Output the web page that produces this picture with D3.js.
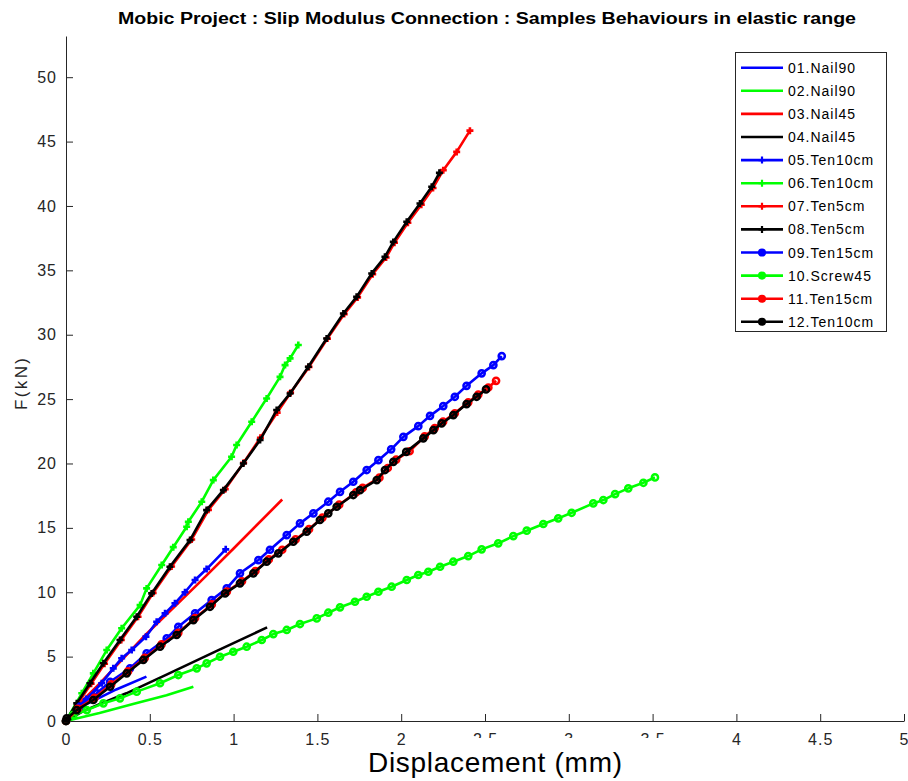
<!DOCTYPE html>
<html>
<head>
<meta charset="utf-8">
<script src="https://cdn.jsdelivr.net/npm/d3@7"></script>
<style>
  body { margin: 0; background: #fff; }
  text { font-family: "Liberation Sans", Arial, sans-serif; }
</style>
</head>
<body>
<svg id="chart" width="908" height="781"></svg>
<script>
// ---- data (x: mm, y: kN) ----
var nail90_01 = [[0,0],[0.04,0.6],[0.1,1.2],[0.16,1.55],[0.3,2.45],[0.48,3.45]];
var nail90_02 = [[0,0],[0.2,0.62],[0.4,1.32],[0.6,2.0],[0.76,2.66]];
var nail45_03 = [[0,0],[0.05,0.8],[0.1,1.6],[0.2,2.9],[0.46,6.5],[0.8,10.8],[1.0,13.4],[1.29,17.2]];
var nail45_04 = [[0,0],[0.1,0.75],[0.2,1.3],[0.36,2.15],[0.6,3.6],[0.9,5.45],[1.2,7.27]];
var ten10_05 = [[0,0],[0.06,0.9],[0.12,1.7],[0.213,2.93],[0.282,4.09],[0.332,4.87],[0.392,5.51],[0.477,6.55],
  [0.541,7.71],[0.591,8.36],[0.65,9.14],[0.71,10.0],[0.77,10.95],[0.839,11.8],[0.953,13.33]];
var ten10_06 = [[0,0],[0.094,2.15],[0.163,3.7],[0.243,5.51],[0.332,7.2],[0.442,9.0],[0.481,10.3],[0.571,12.11],
  [0.64,13.5],[0.72,15.09],[0.73,15.47],[0.81,17.03],[0.879,18.71],[0.988,20.52],[1.018,21.43],[1.108,23.24],
  [1.197,25.05],[1.277,26.73],[1.307,27.64],[1.337,28.16],[1.386,29.2]];
var ten5_07 = [[0,0],[0.07,1.35],[0.15,2.9],[0.23,4.45],[0.33,6.3],[0.43,8.1],[0.52,9.95],[0.63,12.0],[0.75,14.1],
  [0.85,16.4],[0.95,18.0],[1.06,20.05],[1.16,22.0],[1.26,23.95],[1.34,25.5],[1.45,27.5],[1.56,29.7],[1.66,31.6],
  [1.74,32.9],[1.83,34.7],[1.91,36.0],[1.96,37.15],[2.04,38.7],[2.12,40.1],[2.19,41.4],[2.251,42.78],[2.331,44.2],[2.41,45.85]];
var ten5_08 = [[0,0],[0.064,1.37],[0.143,2.93],[0.223,4.48],[0.322,6.29],[0.422,8.1],[0.511,9.91],[0.62,11.98],
  [0.74,14.05],[0.839,16.38],[0.939,17.93],[1.058,20.0],[1.158,21.82],[1.257,24.15],[1.337,25.44],[1.446,27.51],
  [1.555,29.71],[1.655,31.65],[1.734,32.94],[1.824,34.76],[1.903,36.05],[1.953,37.21],[2.033,38.77],[2.112,40.19],
  [2.182,41.49],[2.228,42.57]];
var ten15_09 = [[0,0],[0.084,1.11],[0.183,2.15],[0.263,3.05],[0.382,4.09],[0.481,5.26],[0.601,6.42],[0.67,7.32],
  [0.77,8.36],[0.869,9.39],[0.959,10.3],[1.038,11.47],[1.148,12.5],[1.217,13.3],[1.317,14.44],[1.396,15.35],
  [1.476,16.13],[1.565,17.03],[1.635,17.8],[1.714,18.58],[1.794,19.49],[1.864,20.26],[1.94,21.1],[2.013,22.07],
  [2.102,22.9],[2.172,23.7],[2.251,24.46],[2.32,25.18],[2.39,26.03],[2.48,27.0],[2.55,27.64],[2.6,28.34]];
var screw45_10 = [[0,0],[0.044,0.47],[0.124,0.85],[0.223,1.37],[0.322,1.76],[0.422,2.28],[0.561,2.93],[0.67,3.57],
  [0.78,4.09],[0.839,4.48],[0.919,4.99],[0.998,5.38],[1.078,5.77],[1.168,6.29],[1.237,6.75],[1.317,7.07],
  [1.396,7.53],[1.496,7.97],[1.565,8.41],[1.635,8.83],[1.724,9.26],[1.794,9.65],[1.864,10.04],[1.943,10.43],
  [2.033,10.95],[2.102,11.34],[2.162,11.59],[2.232,11.98],[2.311,12.37],[2.4,12.81],[2.48,13.33],[2.579,13.8],
  [2.669,14.36],[2.749,14.78],[2.848,15.3],[2.937,15.74],[3.017,16.17],[3.146,16.9],[3.206,17.16],[3.276,17.62],
  [3.355,18.07],[3.445,18.5],[3.514,18.92]];
var ten15_11 = [[0,0],[0.07,0.95],[0.17,1.8],[0.27,2.85],[0.37,3.85],[0.47,4.9],[0.57,5.95],[0.67,6.85],[0.77,8.0],
  [0.87,9.05],[0.96,10.05],[1.05,10.85],[1.13,11.65],[1.21,12.55],[1.29,13.3],[1.37,14.1],[1.45,14.9],[1.53,15.8],
  [1.63,16.8],[1.73,17.75],[1.77,18.1],[1.87,18.9],[1.92,19.65],[1.97,20.3],[2.05,20.95],[2.14,22.1],[2.2,22.75],
  [2.25,23.25],[2.32,23.9],[2.4,24.75],[2.46,25.35],[2.52,25.9],[2.566,26.42]];
var ten10_12 = [[0,0],[0.004,0.2],[0.064,0.85],[0.163,1.63],[0.263,2.66],[0.362,3.7],[0.461,4.74],[0.561,5.77],
  [0.66,6.68],[0.76,7.84],[0.859,8.87],[0.949,9.91],[1.038,10.69],[1.118,11.47],[1.197,12.37],[1.267,13.02],
  [1.356,13.92],[1.436,14.7],[1.515,15.61],[1.565,16.13],[1.615,16.64],[1.714,17.55],[1.754,17.93],[1.854,18.71],
  [1.903,19.49],[1.953,20.13],[2.03,20.9],[2.132,21.95],[2.192,22.59],[2.241,23.11],[2.311,23.76],[2.39,24.61],
  [2.45,25.18],[2.506,25.75]];

var seriesNames = ["01.Nail90","02.Nail90","03.Nail45","04.Nail45","05.Ten10cm","06.Ten10cm",
                   "07.Ten5cm","08.Ten5cm","09.Ten15cm","10.Screw45","11.Ten15cm","12.Ten10cm"];
var seriesData = [nail90_01, nail90_02, nail45_03, nail45_04, ten10_05, ten10_06,
                  ten5_07, ten5_08, ten15_09, screw45_10, ten15_11, ten10_12];
var xTicks = [0,0.5,1,1.5,2,2.5,3,3.5,4,4.5,5];
var yTicks = [0,5,10,15,20,25,30,35,40,45,50];

// styles
var colors = ["#0000ff","#00ff00","#ff0000","#000000"];
var markerOf = function(i){ return i < 4 ? "none" : (i < 8 ? "plus" : "circle"); };

var svg = d3.select("#chart");
var x = d3.scaleLinear().domain([0, 5]).range([66, 904]);
var y = d3.scaleLinear().domain([0, 53.2]).range([721, 36]);

// title
svg.append("text")
  .attr("x", 487).attr("y", 24)
  .attr("text-anchor", "middle")
  .style("font-weight", "bold").style("font-size", "16px").style("fill", "#000")
  .attr("textLength", 738).attr("lengthAdjust", "spacingAndGlyphs")
  .text("Mobic Project : Slip Modulus Connection : Samples Behaviours in elastic range");

// axes
var xAxis = svg.append("g").attr("transform", "translate(0,721)")
  .call(d3.axisBottom(x).tickValues(xTicks).tickSize(-7).tickSizeOuter(0).tickPadding(13)
        .tickFormat(function(d){ return String(d); }));
var yAxis = svg.append("g").attr("transform", "translate(66,0)")
  .call(d3.axisLeft(y).tickValues(yTicks).tickSize(-7).tickSizeOuter(0).tickPadding(9)
        .tickFormat(function(d){ return String(d); }));
[xAxis, yAxis].forEach(function(a){
  a.select(".domain").attr("stroke", "#262626");
  a.selectAll(".tick line").attr("stroke", "#262626");
  a.selectAll(".tick text").style("font-size", "16px").style("fill", "#262626")
    .style("font-family", "'Liberation Sans', Arial, sans-serif").style("letter-spacing", "1px");
});

// series
var line = d3.line().x(function(d){ return x(d[0]); }).y(function(d){ return y(d[1]); });
var plusPath = "M-3.5,0H3.5M0,-3.5V3.5";

function drawMarkers(g, pts, kind, col){
  if (kind === "plus") {
    g.selectAll("path.m").data(pts).enter().append("path").attr("class", "m")
      .attr("d", plusPath)
      .attr("transform", function(d){ return "translate(" + x(d[0]) + "," + y(d[1]) + ")"; })
      .attr("stroke", col).attr("stroke-width", 2.6).attr("fill", "none");
  } else if (kind === "circle") {
    g.selectAll("circle.m").data(pts).enter().append("circle").attr("class", "m")
      .attr("cx", function(d){ return x(d[0]); }).attr("cy", function(d){ return y(d[1]); })
      .attr("r", 3.1).attr("stroke", col).attr("stroke-width", 2.5).attr("fill", "none");
  }
}

seriesData.forEach(function(pts, i){
  var col = colors[i % 4];
  var g = svg.append("g");
  g.append("path").datum(pts).attr("d", line)
    .attr("fill", "none").attr("stroke", col).attr("stroke-width", 2.6)
    .attr("stroke-linejoin", "round");
  drawMarkers(g, pts, markerOf(i), col);
});

// white box behind the x label (hides part of the tick labels as in the original)
svg.append("rect").attr("x", 455).attr("y", 738).attr("width", 220).attr("height", 43).attr("fill", "#fff");

svg.append("text")
  .attr("x", 495).attr("y", 772).attr("text-anchor", "middle")
  .style("font-size", "28px").style("fill", "#000")
  .attr("textLength", 254).attr("lengthAdjust", "spacing")
  .text("Displacement (mm)");

svg.append("text")
  .attr("transform", "translate(27,384) rotate(-90)")
  .attr("text-anchor", "middle")
  .style("font-size", "17px").style("fill", "#262626")
  .attr("textLength", 52).attr("lengthAdjust", "spacing")
  .text("F(kN)");

// legend
var leg = svg.append("g");
leg.append("rect").attr("x", 735.5).attr("y", 52.5).attr("width", 151).attr("height", 279)
  .attr("fill", "#fff").attr("stroke", "#262626").attr("stroke-width", 1);
seriesNames.forEach(function(name, i){
  var cy = 67.7 + i * 23.1;
  var col = colors[i % 4];
  var row = leg.append("g");
  row.append("line").attr("x1", 741).attr("x2", 783).attr("y1", cy).attr("y2", cy)
    .attr("stroke", col).attr("stroke-width", 2.6);
  var kind = markerOf(i);
  if (kind === "plus") {
    row.append("path").attr("d", plusPath).attr("transform", "translate(762," + cy + ")")
      .attr("stroke", col).attr("stroke-width", 2.2).attr("fill", "none");
  } else if (kind === "circle") {
    row.append("circle").attr("cx", 762).attr("cy", cy).attr("r", 2.8)
      .attr("stroke", col).attr("stroke-width", 2.5).attr("fill", col);
  }
  row.append("text").attr("x", 788).attr("y", cy + 5)
    .style("font-size", "14px").style("fill", "#000").style("letter-spacing", "1px")
    .text(name);
});
</script>
</body>
</html>
